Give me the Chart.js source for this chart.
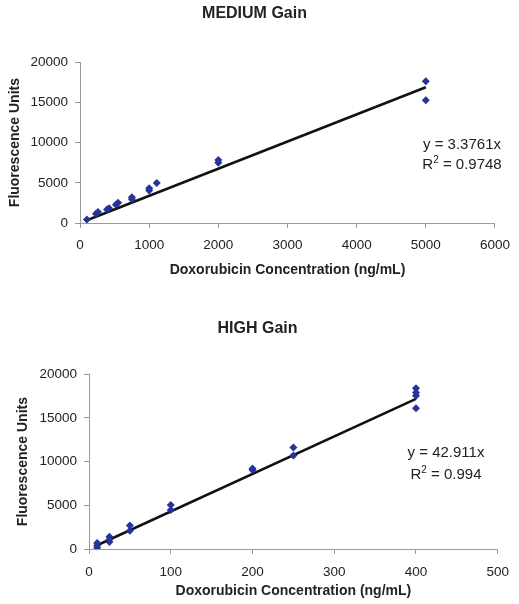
<!DOCTYPE html>
<html>
<head>
<meta charset="utf-8">
<script src="https://cdn.jsdelivr.net/npm/chart.js@4/dist/chart.umd.min.js"></script>
<style>
  body { margin: 0; background: #fff; }
  .box { position: absolute; left: 0; width: 519px; }
</style>
</head>
<body>
<div class="box" style="top:0;height:292px"><canvas id="medChart"></canvas></div>
<div class="box" style="top:298px;height:306px"><canvas id="highChart"></canvas></div>
<script>
// MEDIUM gain
var medConc = [100, 230, 260, 390, 420, 520, 550, 750, 750, 1000, 1000, 1110, 2000, 2000, 5000, 5000];
var medFluor = [420, 1160, 1360, 1690, 1850, 2270, 2520, 3210, 2960, 4040, 4320, 4990, 7830, 7490, 17620, 15270];
var medSlope = 3.3761;
var medR2 = "0.9748";

// HIGH gain
var highConc = [10, 10, 10, 25, 25, 25, 50, 50, 100, 100, 200, 200, 250, 250, 400, 400, 400, 400];
var highFluor = [150, 400, 700, 800, 1100, 1400, 2100, 2700, 4470, 5030, 9050, 9200, 10700, 11600, 16090, 17530, 17900, 18400];
var highSlope = 42.911;
var highR2 = "0.994";

var FONT = "'Liberation Sans', Arial, sans-serif";
var axisGrey = "#9a9a9a";

// equation text drawn near the right side of the plot
var eqPlugin = {
    id: "eq",
    afterDraw: function (chart) {
        var o = chart.options.plugins.eq;
        var ctx = chart.ctx;
        var cx = o.x, y1 = o.y;
        ctx.save();
        ctx.fillStyle = "#222";
        ctx.font = "15px " + FONT;
        ctx.textBaseline = "middle";
        ctx.textAlign = "center";
        ctx.fillText(o.eq, cx, y1);
        // R² line with superscript
        var a = "R", b = " = " + o.r2;
        var wa = ctx.measureText(a).width, wb = ctx.measureText(b).width;
        ctx.font = "10px " + FONT;
        var ws = ctx.measureText("2").width;
        var start = cx - (wa + ws + wb) / 2;
        var y2 = y1 + o.gap;
        ctx.textAlign = "left";
        ctx.font = "15px " + FONT;
        ctx.fillText(a, start, y2);
        ctx.font = "10px " + FONT;
        ctx.fillText("2", start + wa, y2 - 5);
        ctx.font = "15px " + FONT;
        ctx.fillText(b, start + wa + ws, y2);
        ctx.restore();
    }
};

function makeChart(id, cfg) {
    var pts = cfg.conc.map(function (x, i) { return { x: x, y: cfg.fluor[i] }; });
    var xmin = Math.min.apply(null, cfg.conc), xmax = Math.max.apply(null, cfg.conc);
    var fit = [{ x: xmin, y: cfg.slope * xmin }, { x: xmax, y: cfg.slope * xmax }];

    return new Chart(document.getElementById(id), {
        type: "scatter",
        data: {
            datasets: [
                {
                    label: "trend",
                    data: fit,
                    showLine: true,
                    borderColor: "#111",
                    borderWidth: 2.5,
                    pointRadius: 0,
                    order: 2
                },
                {
                    label: "data",
                    data: pts,
                    pointStyle: "rectRot",
                    pointRadius: 4,
                    backgroundColor: "#26339a",
                    borderColor: "#26339a",
                    borderWidth: 0,
                    order: 1
                }
            ]
        },
        plugins: [eqPlugin],
        options: {
            responsive: true,
            maintainAspectRatio: false,
            animation: false,
            layout: { padding: cfg.padding },
            plugins: {
                legend: { display: false },
                tooltip: { enabled: false },
                title: {
                    display: true,
                    text: cfg.title,
                    color: "#222",
                    font: { family: FONT, size: 16, weight: "bold" },
                    padding: cfg.titlePad
                },
                eq: cfg.eq
            },
            scales: {
                x: {
                    type: "linear",
                    min: 0,
                    max: cfg.xmax,
                    afterBuildTicks: function (s) {
                        s.ticks = cfg.xticks.map(function (v) { return { value: v }; });
                    },
                    afterFit: function (s) { s.height = cfg.xHeight; },
                    grid: { drawOnChartArea: false, drawTicks: true, tickLength: 5, color: axisGrey },
                    border: { color: axisGrey },
                    ticks: {
                        color: "#222",
                        font: { family: FONT, size: 13.5 },
                        padding: cfg.xTickPad,
                        maxRotation: 0,
                        callback: function (v) { return String(v); }
                    },
                    title: {
                        display: true,
                        text: "Doxorubicin Concentration (ng/mL)",
                        color: "#222",
                        font: { family: FONT, size: 14, weight: "bold" },
                        padding: 0
                    }
                },
                y: {
                    min: 0,
                    max: 20000,
                    afterBuildTicks: function (s) {
                        s.ticks = [0, 5000, 10000, 15000, 20000].map(function (v) { return { value: v }; });
                    },
                    afterFit: function (s) { s.width = cfg.yWidth; },
                    grid: { drawOnChartArea: false, drawTicks: true, tickLength: 5, color: axisGrey },
                    border: { color: axisGrey },
                    ticks: {
                        color: "#222",
                        font: { family: FONT, size: 13.5 },
                        padding: 7,
                        callback: function (v) { return String(v); }
                    },
                    title: {
                        display: true,
                        text: "Fluorescence Units",
                        color: "#222",
                        font: { family: FONT, size: 14, weight: "bold" },
                        padding: 0
                    }
                }
            }
        }
    });
}

makeChart("medChart", {
    conc: medConc, fluor: medFluor, slope: medSlope,
    title: "MEDIUM Gain",
    xmax: 6000, xticks: [0, 1000, 2000, 3000, 4000, 5000, 6000],
    yWidth: 73, xHeight: 56, xTickPad: 9,
    padding: { left: 7, right: 17, top: 2, bottom: 13 },
    titlePad: { top: 2, bottom: 39 },
    eq: { eq: "y = 3.3761x", r2: medR2, x: 462, y: 145, gap: 20 }
});

makeChart("highChart", {
    conc: highConc, fluor: highFluor, slope: highSlope,
    title: "HIGH Gain",
    xmax: 500, xticks: [0, 100, 200, 300, 400, 500],
    yWidth: 74, xHeight: 51, xTickPad: 10,
    padding: { left: 15, right: 19, top: 19, bottom: 4 },
    titlePad: { top: 2, bottom: 36 },
    eq: { eq: "y = 42.911x", r2: highR2, x: 446, y: 155, gap: 22 }
});
</script>
</body>
</html>
